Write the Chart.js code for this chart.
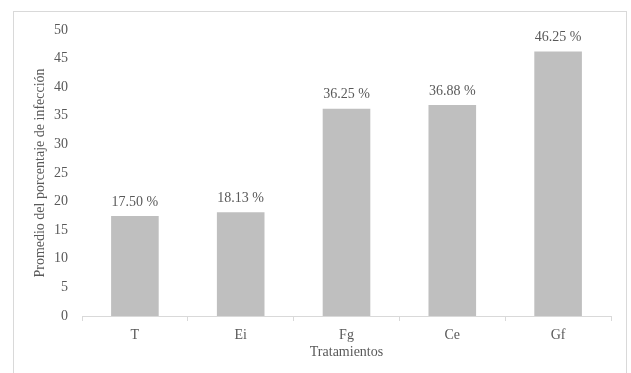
<!DOCTYPE html>
<html lang="es">
<head>
    <meta charset="UTF-8">
    <title>Promedio del porcentaje de infección</title>
    <script src="https://cdn.jsdelivr.net/npm/chart.js"></script>
    <style>
        html, body { margin: 0; padding: 0; background: #fff; }
        #wrap { position: relative; width: 631px; height: 373px; }
        #frame { position: absolute; left: 13px; top: 11px; width: 614px; height: 380px;
                 border: 1px solid #d9d9d9; box-sizing: border-box; }
        canvas { position: absolute; left: 0; top: 0; }
    </style>
</head>
<body>
    <div id="wrap">
        <div id="frame"></div>
        <canvas id="infeccionChart" width="631" height="373"></canvas>
    </div>
    <script>
        const tratamientos = ['T', 'Ei', 'Fg', 'Ce', 'Gf'];
        const infeccion = [17.50, 18.13, 36.25, 36.88, 46.25];
        const yMax = 50;
        const yStep = 5;

        const GRIS = '#595959';
        const FUENTE = '"Liberation Serif", "Times New Roman", serif';

        // etiquetas de valor encima de cada barra
        const etiquetas = {
            id: 'etiquetas',
            afterDatasetsDraw(chart) {
                const ctx = chart.ctx;
                const meta = chart.getDatasetMeta(0);
                ctx.save();
                ctx.font = '14px ' + FUENTE;
                ctx.fillStyle = GRIS;
                ctx.textAlign = 'center';
                ctx.textBaseline = 'bottom';
                meta.data.forEach((bar, i) => {
                    ctx.fillText(infeccion[i].toFixed(2) + ' %', bar.x, bar.y - 7);
                });
                ctx.restore();
            }
        };

        new Chart(document.getElementById('infeccionChart'), {
            type: 'bar',
            data: {
                labels: tratamientos,
                datasets: [{
                    data: infeccion,
                    backgroundColor: '#bfbfbf',
                    categoryPercentage: 0.9,
                    barPercentage: 0.5
                }]
            },
            options: {
                responsive: false,
                animation: false,
                layout: { padding: { left: 0, right: 20, top: 30, bottom: 12 } },
                plugins: {
                    legend: { display: false },
                    tooltip: { enabled: false }
                },
                scales: {
                    x: {
                        offset: true,
                        grid: {
                            offset: true,
                            drawOnChartArea: false,
                            drawTicks: true,
                            tickLength: 5,
                            color: '#d9d9d9'
                        },
                        border: { color: '#d9d9d9' },
                        ticks: { color: GRIS, font: { family: FUENTE, size: 14 }, padding: 6 },
                        title: {
                            display: true,
                            text: 'Tratamientos',
                            color: GRIS,
                            font: { family: FUENTE, size: 14 },
                            padding: { top: 6, bottom: 0 }
                        },
                        afterFit(scale) { scale.height = 45; }
                    },
                    y: {
                        min: 0,
                        max: yMax,
                        ticks: { stepSize: yStep, color: GRIS, font: { family: FUENTE, size: 14 }, padding: 6 },
                        grid: { display: false },
                        border: { display: false },
                        title: {
                            display: true,
                            text: 'Promedio del porcentaje de infección',
                            color: GRIS,
                            font: { family: FUENTE, size: 14 },
                            padding: { top: 32, bottom: 0 }
                        },
                        afterFit(scale) { scale.width = 82; }
                    }
                }
            },
            plugins: [etiquetas]
        });
    </script>
</body>
</html>
